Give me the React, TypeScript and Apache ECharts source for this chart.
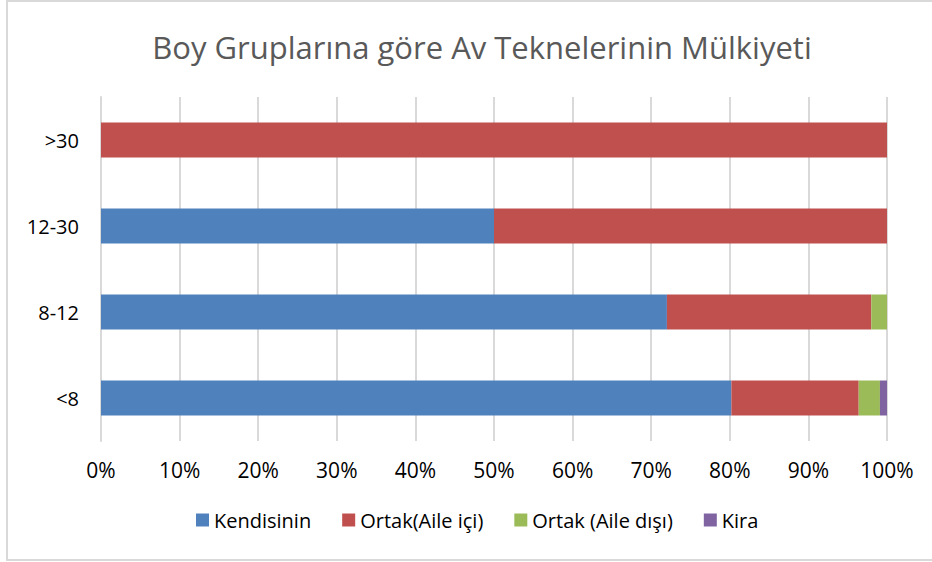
import React, { useEffect, useRef } from "react";
import * as echarts from "echarts";

const categories = ["<8", "8-12", "12-30", ">30"];
const seriesNames = ["Kendisinin", "Ortak(Aile içi)", "Ortak (Aile dışı)", "Kira"];
const kendisinin = [80.2, 72.0, 50.0, 0];
const ortakAileIci = [16.2, 26.0, 50.0, 100];
const ortakAileDisi = [2.7, 2.0, 0, 0];
const kira = [0.9, 0, 0, 0];
const colors = ["#4f81bd", "#c0504d", "#9bbb59", "#8064a2"];

export default function App() {
  const ref = useRef<HTMLDivElement>(null);
  useEffect(() => {
    const chart = echarts.init(ref.current!, null, { renderer: "svg" });
    const font = "'Open Sans', 'Noto Sans', sans-serif";
    const data = [kendisinin, ortakAileIci, ortakAileDisi, kira];
    chart.setOption({
      animation: false,
      backgroundColor: "#ffffff",
      title: {
        text: "Boy Gruplarına göre Av Teknelerinin Mülkiyeti",
        left: 477,
        top: 26,
        textAlign: "center",
        textStyle: { color: "#595959", fontSize: 31, fontWeight: "normal", fontFamily: font },
      },
      legend: {
        data: seriesNames,
        top: 510,
        left: 196,
        padding: 0,
        itemWidth: 13,
        itemHeight: 13,
        itemGap: 31,
        icon: "rect",
        textStyle: { color: "#000", fontSize: 20, fontFamily: font },
      },
      grid: { left: 101, right: 45, top: 97, height: 344, containLabel: false },
      xAxis: {
        type: "value",
        min: 0,
        max: 100,
        interval: 10,
        axisLine: { show: false },
        axisTick: { show: false },
        splitLine: { lineStyle: { color: "#d9d9d9", width: 2 } },
        axisLabel: { formatter: "{value}%", color: "#000", fontSize: 21, fontFamily: font, margin: 18 },
      },
      yAxis: {
        type: "category",
        data: categories,
        axisLine: { lineStyle: { color: "#d9d9d9", width: 2 } },
        axisTick: { show: false },
        axisLabel: { color: "#000", fontSize: 20, fontFamily: font, margin: 22 },
      },
      graphic: [
        {
          type: "rect",
          shape: { x: 7, y: 1, width: 940, height: 559 },
          style: { fill: "none", stroke: "#d9d9d9", lineWidth: 2 },
          silent: true,
        },
      ],
      series: seriesNames.map((name, i) => ({
        name,
        type: "bar",
        stack: "total",
        barWidth: 35,
        data: data[i],
        itemStyle: { color: colors[i] },
      })),
    });
    return () => chart.dispose();
  }, []);
  return <div ref={ref} style={{ width: 932, height: 562, position: "absolute", left: 0, top: 0 }} />;
}
